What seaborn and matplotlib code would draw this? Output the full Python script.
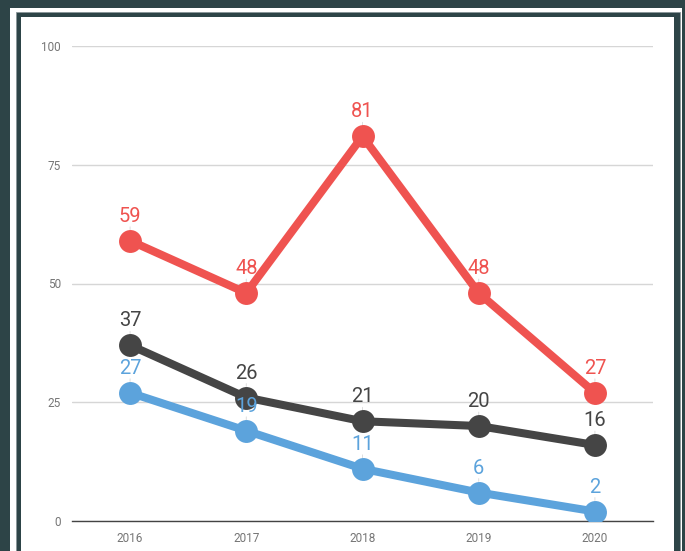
import pandas as pd
import matplotlib.pyplot as plt
import seaborn as sns
from matplotlib.patches import Rectangle

years = ["2016", "2017", "2018", "2019", "2020"]
red_vals = [59, 48, 81, 48, 27]
dark_vals = [37, 26, 21, 20, 16]
blue_vals = [27, 19, 11, 6, 2]

series = {"blue": blue_vals, "dark": dark_vals, "red": red_vals}
colors = {"red": "#ef5350", "dark": "#454545", "blue": "#5ca3dc"}

rows = []
for name, vals in series.items():
    for i, v in enumerate(vals):
        rows.append({"pos": i, "value": v, "series": name})
df = pd.DataFrame(rows)

sns.set_style("white")
plt.rcParams["font.family"] = ["Roboto", "DejaVu Sans"]

fig = plt.figure(figsize=(6.85, 5.51), dpi=100)
fig.patch.set_facecolor("#2d4447")
W, H = 685, 551
# white frame, dark band, white panel
fig.add_artist(Rectangle((10 / W, 0), 672 / W, 543 / H, transform=fig.transFigure,
                         facecolor="white", edgecolor="none", zorder=0))
fig.add_artist(Rectangle((16 / W, 0), 664 / W, 539 / H, transform=fig.transFigure,
                         facecolor="#2d4447", edgecolor="#8a9699", lw=0.6, zorder=0))
fig.add_artist(Rectangle((21 / W, 0), 653 / W, 534 / H, transform=fig.transFigure,
                         facecolor="white", edgecolor="none", zorder=0))

ax = fig.add_axes([72 / W, 1 - 521 / H, 581 / W, 475 / H])
ax.set_facecolor("none")

sns.lineplot(data=df, x="pos", y="value", hue="series", palette=colors,
             marker="o", markersize=16.5, markeredgewidth=0, linewidth=5.8,
             legend=False, ax=ax, zorder=3)

for name, vals in series.items():
    for i, v in enumerate(vals):
        ax.annotate(str(v), (i, v), xytext=(0, 17.5), textcoords="offset points",
                    ha="center", va="center", fontsize=14.5, color=colors[name], zorder=5)
        ax.annotate("", (i, v), xytext=(0, 10), textcoords="offset points",
                    arrowprops=dict(arrowstyle="-", color="#dddddd", lw=0.7,
                                    shrinkA=0, shrinkB=8), zorder=2)

ax.set_xlim(-0.5, 4.5)
ax.set_ylim(0, 100)
ax.set_yticks([0, 25, 50, 75, 100])
ax.set_xticks(range(len(years)))
ax.set_xticklabels(years)
ax.grid(axis="y", color="#d6d6d6", lw=1)
ax.set_axisbelow(True)
for s in ["top", "right", "left"]:
    ax.spines[s].set_visible(False)
ax.spines["bottom"].set_color("#444444")
ax.spines["bottom"].set_linewidth(1)
ax.tick_params(axis="both", length=0, labelsize=8.5, labelcolor="#757575")
ax.tick_params(axis="y", pad=8)
ax.tick_params(axis="x", pad=8)
ax.set_xlabel("")
ax.set_ylabel("")

fig.savefig("out.png", dpi=100)
